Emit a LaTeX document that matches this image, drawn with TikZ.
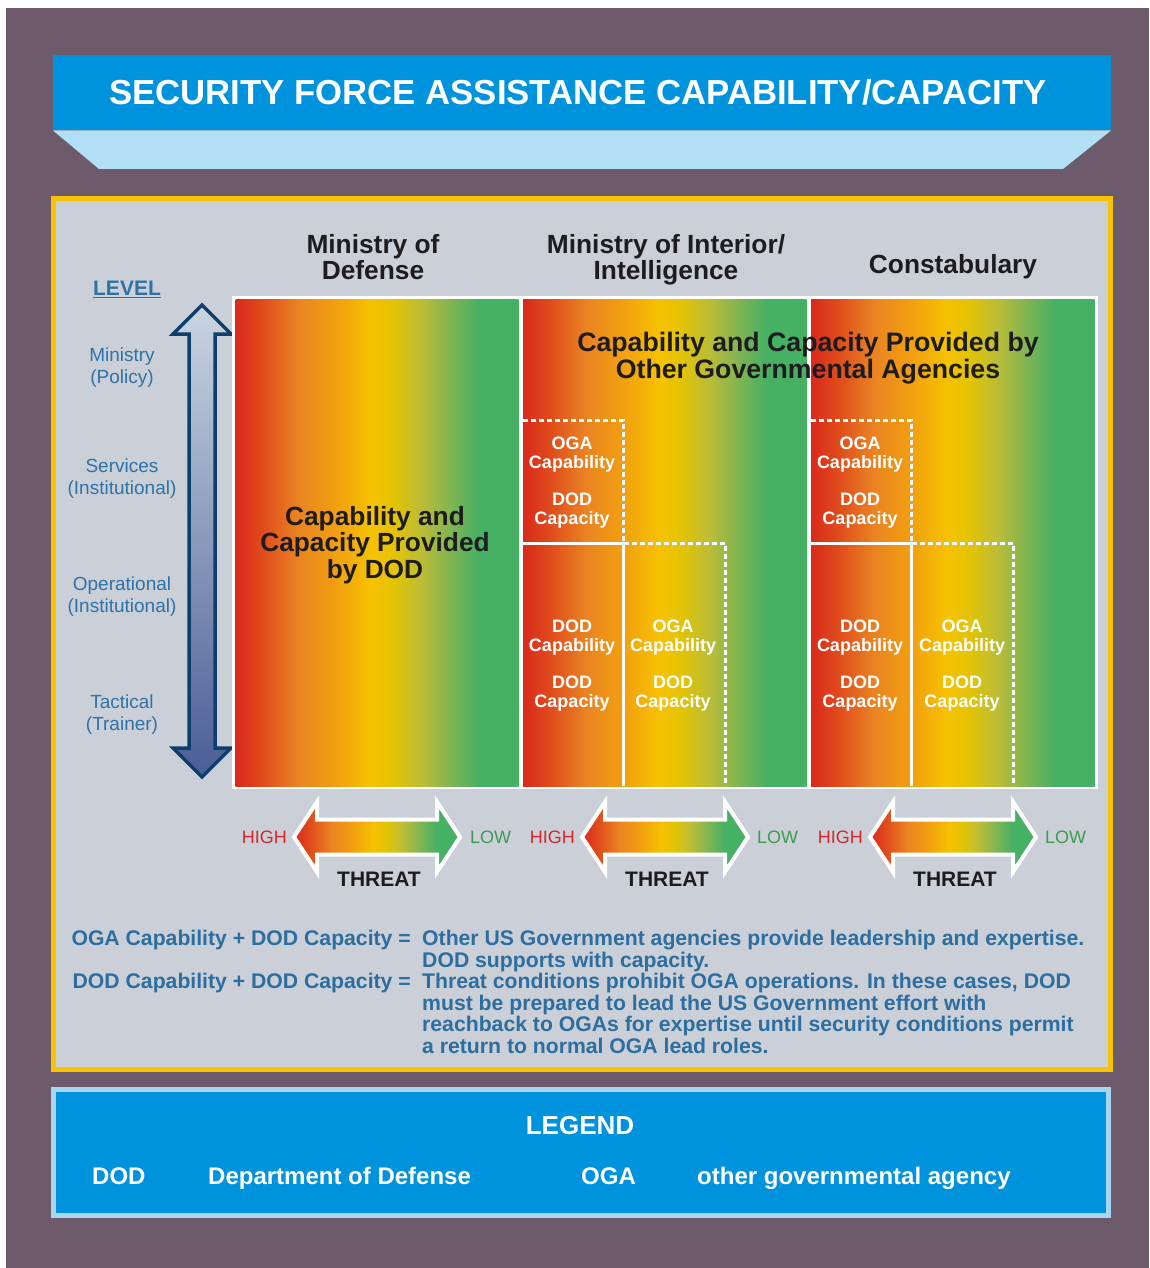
\documentclass[tikz,border=0pt]{standalone}
\usepackage{fontspec}
\setmainfont{Liberation Sans}
\usetikzlibrary{
  arrows.meta,
}
\definecolor{backpurple}{RGB}{109, 90, 107}
\definecolor{titleblue}{RGB}{0, 147, 221}
\definecolor{titlelight}{RGB}{179, 223, 246}
\definecolor{frameyellow}{RGB}{248, 195, 0}
\definecolor{panelgrey}{RGB}{203, 208, 216}
\definecolor{levelblue}{RGB}{46, 114, 166}
\definecolor{notesblue}{RGB}{44, 110, 159}
\definecolor{arrowedge}{RGB}{13, 62, 108}
\definecolor{highred}{RGB}{215, 38, 43}
\definecolor{lowgreen}{RGB}{62, 154, 82}
\definecolor{legendedge}{RGB}{167, 214, 240}
\definecolor{inkblack}{RGB}{30, 28, 30}
\definecolor{gred}{RGB}{218, 41, 28}
\definecolor{gredorange}{RGB}{224, 77, 28}
\definecolor{gorange}{RGB}{234, 131, 34}
\definecolor{gamber}{RGB}{242, 161, 15}
\definecolor{gyellow}{RGB}{246, 194, 0}
\definecolor{gyellowtwo}{RGB}{226, 195, 5}
\definecolor{golive}{RGB}{185, 189, 56}
\definecolor{glime}{RGB}{128, 181, 83}
\definecolor{ggreen}{RGB}{70, 176, 100}
\pgfdeclarehorizontalshading{threatfade}{100bp}{
  color(0bp)=(gred); color(25bp)=(gred); color(30bp)=(gredorange);
  color(36bp)=(gorange); color(43bp)=(gamber); color(49bp)=(gyellow);
  color(53bp)=(gyellowtwo); color(58bp)=(golive); color(63bp)=(glime);
  color(68bp)=(ggreen); color(75bp)=(ggreen); color(100bp)=(ggreen)}
\tikzstyle{heading} = [
  font=\fontsize{26.3}{26.5}\selectfont\bfseries,
  text=inkblack,
  align=center,
  inner sep=0pt,
]
\tikzstyle{cell} = [
  font=\fontsize{18}{19}\selectfont\bfseries,
  text=white,
  align=center,
  inner sep=0pt,
]
\tikzstyle{levelname} = [
  font=\fontsize{19}{22}\selectfont,
  text=levelblue,
  align=center,
  inner sep=0pt,
]
\tikzstyle{highlow} = [
  font=\fontsize{18}{18}\selectfont,
  inner sep=0pt,
]
\tikzstyle{threatlabel} = [
  font=\fontsize{21}{21}\selectfont\bfseries,
  text=inkblack,
  anchor=base,
  inner sep=0pt,
]
\tikzstyle{note} = [
  font=\fontsize{21.2}{21.5}\selectfont\bfseries,
  text=notesblue,
  align=left,
  inner sep=0pt,
]
\tikzstyle{legenditem} = [
  font=\fontsize{24}{24}\selectfont\bfseries,
  text=white,
  anchor=base west,
  inner sep=0pt,
]
\tikzstyle{divider} = [white, line width=3pt]
\tikzstyle{dividerdash} = [divider, dash pattern=on 5pt off 3pt]
\tikzstyle{threatarrow} = [
  shade,
  shading=threatfade,
  draw=white,
  line width=4pt,
  line join=miter,
]

\begin{document}
\begin{tikzpicture}[x=1pt,y=-1pt]
    \useasboundingbox (0,0) rectangle (1149,1268);
    \fill[white] (0,0) rectangle (1149,1268);
    \fill[backpurple] (6,8) rectangle (1149,1268);

    % title banner
    \fill[titleblue] (53,55) rectangle (1111,130.5);
    \fill[titlelight] (53,130.5) -- (1111,130.5) -- (1063,169) -- (99,169) -- cycle;
    \node[font=\fontsize{34.7}{34.7}\selectfont\bfseries, text=white, anchor=base, inner sep=0pt] (title) at (578,104.4) {SECURITY FORCE ASSISTANCE CAPABILITY/CAPACITY};

    % main panel
    \fill[frameyellow] (51,196) rectangle (1113,1072);
    \fill[panelgrey] (56,201) rectangle (1108,1067);

    \node[heading] (defhead) at (373,257) {Ministry of\\Defense};
    \node[heading] (inthead) at (666,260) {Ministry of Interior/\\Intelligence};
    \node[heading, anchor=base] (conhead) at (953,273.3) {Constabulary};

    % levels
    \node[font=\fontsize{21}{21}\selectfont\bfseries, text=levelblue, anchor=base, inner sep=0pt] (levelhead) at (127,295.5) {\underline{LEVEL}};
    \node[levelname] (ministry) at (122,367.5) {Ministry\\(Policy)};
    \node[levelname] (services) at (122,479) {Services\\(Institutional)};
    \node[levelname] (operational) at (122,597) {Operational\\(Institutional)};
    \node[levelname] (tactical) at (122,715) {Tactical\\(Trainer)};
    \path[draw=arrowedge, line width=3.5pt, line join=miter, top color={rgb,255:red,202;green,213;blue,225}, middle color={rgb,255:red,155;green,175;blue,207}, bottom color={rgb,255:red,74;green,93;blue,150}]
        (202,305) -- (231,334) -- (215,334) -- (215,748) -- (231,748) -- (202,777)
        -- (173,748) -- (189,748) -- (189,334) -- (173,334) -- cycle;

    % columns
    \fill[white] (232,296) rectangle (1098,789);
    \shade[shading=threatfade] (235.5,299.5) rectangle (518.5,786);
    \shade[shading=threatfade] (523,299.5) rectangle (806.5,786);
    \shade[shading=threatfade] (811,299.5) rectangle (1094.5,786);

    \draw[dividerdash] (523,420) -- (623.5,420) -- (623.5,543.5);
    \draw[divider] (523,543.5) -- (623.5,543.5) -- (623.5,786);
    \draw[dividerdash] (623.5,543.5) -- (725,543.5) -- (725,786);
    \draw[dividerdash] (811,420) -- (911.5,420) -- (911.5,543.5);
    \draw[divider] (811,543.5) -- (911.5,543.5) -- (911.5,786);
    \draw[dividerdash] (911.5,543.5) -- (1013,543.5) -- (1013,786);

    \node[heading] (dodtext) at (375,544.7) {Capability and\\Capacity Provided\\by DOD};
    \node[heading, font=\fontsize{26.7}{27}\selectfont\bfseries] (ogatext) at (808,358) {Capability and Capacity Provided by\\Other Governmental Agencies};

    \node[cell] (ogacapb) at (572,454.8) {OGA\\Capability};
    \node[cell] (dodcapb) at (572,510.7) {DOD\\Capacity};
    \node[cell] (dodablb) at (572,637.1) {DOD\\Capability};
    \node[cell] (dodcpcb) at (572,693.2) {DOD\\Capacity};
    \node[cell] (ogaablb) at (673,637.1) {OGA\\Capability};
    \node[cell] (ogacpcb) at (673,693.2) {DOD\\Capacity};

    \node[cell] (ogacapc) at (860,454.8) {OGA\\Capability};
    \node[cell] (dodcapc) at (860,510.7) {DOD\\Capacity};
    \node[cell] (dodablc) at (860,637.1) {DOD\\Capability};
    \node[cell] (dodcpcc) at (860,693.2) {DOD\\Capacity};
    \node[cell] (ogaablc) at (962,637.1) {OGA\\Capability};
    \node[cell] (ogacpcc) at (962,693.2) {DOD\\Capacity};

    % threat arrows
    \path[threatarrow] (294,837) -- (317,802) -- (317,819.5) -- (437,819.5) -- (437,802) -- (460,837)
        -- (437,872) -- (437,854.5) -- (317,854.5) -- (317,872) -- cycle;
    \path[threatarrow] (582,837) -- (605,802) -- (605,819.5) -- (725,819.5) -- (725,802) -- (748,837)
        -- (725,872) -- (725,854.5) -- (605,854.5) -- (605,872) -- cycle;
    \path[threatarrow] (870,837) -- (893,802) -- (893,819.5) -- (1013,819.5) -- (1013,802) -- (1036,837)
        -- (1013,872) -- (1013,854.5) -- (893,854.5) -- (893,872) -- cycle;

    \node[highlow, text=highred, anchor=base east] (higha) at (287,843.4) {HIGH};
    \node[highlow, text=lowgreen, anchor=base west] (lowa) at (470,843.4) {LOW};
    \node[highlow, text=highred, anchor=base east] (highb) at (575,843.4) {HIGH};
    \node[highlow, text=lowgreen, anchor=base west] (lowb) at (757,843.4) {LOW};
    \node[highlow, text=highred, anchor=base east] (highc) at (863,843.4) {HIGH};
    \node[highlow, text=lowgreen, anchor=base west] (lowc) at (1045,843.4) {LOW};

    \node[threatlabel] (threata) at (379,886.5) {THREAT};
    \node[threatlabel] (threatb) at (667,886.5) {THREAT};
    \node[threatlabel] (threatc) at (955,886.5) {THREAT};

    % definitions
    \node[note, anchor=base east] (ogadef) at (411,945.5) {OGA Capability + DOD Capacity =};
    \node[note, anchor=base east] (doddef) at (411,988.5) {DOD Capability + DOD Capacity =};
    \node[note, anchor=north west] (ogadesc) at (422,930.2) {Other US Government agencies provide leadership and expertise.\\DOD supports with capacity.};
    \node[note, anchor=north west] (doddesc) at (422,973.2) {Threat conditions prohibit OGA operations. In these cases, DOD\\must be prepared to lead the US Government effort with\\reachback to OGAs for expertise until security conditions permit\\a return to normal OGA lead roles.};

    % legend
    \fill[legendedge] (51,1087) rectangle (1111,1218);
    \fill[titleblue] (56,1092) rectangle (1106,1213);
    \node[font=\fontsize{26}{26}\selectfont\bfseries, text=white, anchor=base, inner sep=0pt] (legendhead) at (580,1134.3) {LEGEND};
    \node[legenditem] (dodabbr) at (92,1184.6) {DOD};
    \node[legenditem] (dodlong) at (208,1184.6) {Department of Defense};
    \node[legenditem] (ogaabbr) at (581,1184.6) {OGA};
    \node[legenditem] (ogalong) at (697,1184.6) {other governmental agency};
\end{tikzpicture}
\end{document}
